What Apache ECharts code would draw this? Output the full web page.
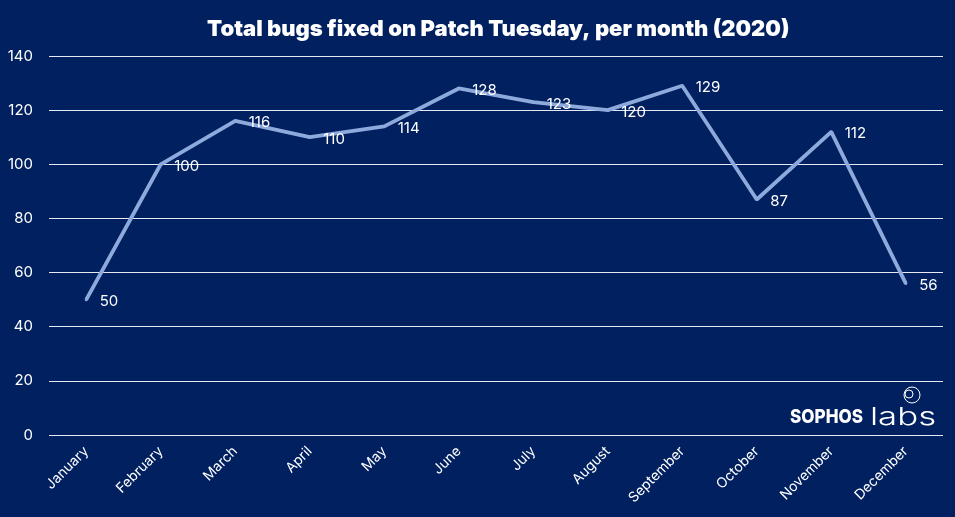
<!DOCTYPE html>
<html>
<head>
<meta charset="utf-8">
<script src="https://cdn.jsdelivr.net/npm/echarts@6/dist/echarts.min.js"></script>
<style>
  html, body { margin: 0; padding: 0; background: #012060; }
  #chart { width: 955px; height: 517px; }
</style>
</head>
<body>
<div id="chart"></div>
<script>
var months = ["January", "February", "March", "April", "May", "June", "July",
  "August", "September", "October", "November", "December"];
var bugsFixed = [50, 100, 116, 110, 114, 128, 123, 120, 129, 87, 112, 56];
var yTicks = { min: 0, max: 140, step: 20 };

var chartDom = document.getElementById("chart");
var myChart = echarts.init(chartDom);
var option;

option = {
  backgroundColor: "#012060",
  textStyle: { fontFamily: "Inter, sans-serif" },
  title: {
    text: "Total bugs fixed on Patch Tuesday, per month (2020)",
    left: 202,
    top: 13,
    textStyle: {
      color: "#fff",
      fontSize: 22,
      fontWeight: 900,
      fontFamily: "Inter, sans-serif",
    },
  },
  grid: {
    left: 49,
    right: 12,
    top: 56,
    bottom: 82,
    containLabel: false,
  },
  xAxis: {
    type: "category",
    data: months,
    boundaryGap: true,
    axisLine: { show: false },
    axisTick: { show: false },
    axisLabel: {
      color: "#fff",
      fontSize: 14,
      rotate: 45,
      margin: 14,
      interval: 0,
    },
  },
  yAxis: {
    type: "value",
    min: yTicks.min,
    max: yTicks.max,
    interval: yTicks.step,
    axisLine: { show: false },
    axisTick: { show: false },
    axisLabel: {
      color: "#fff",
      fontSize: 15,
      margin: 16,
    },
    splitLine: { lineStyle: { color: "#e6e9f2", width: 1 } },
  },
  series: [
    {
      name: "Bugs fixed",
      type: "line",
      data: bugsFixed,
      symbol: "circle",
      symbolSize: 3,
      showSymbol: true,
      itemStyle: { color: "#8eaadc" },
      lineStyle: { color: "#8eaadc", width: 3.8 },
      label: {
        show: true,
        position: "right",
        distance: 12,
        offset: [0, 2],
        color: "#fff",
        fontSize: 15,
      },
    },
  ],
  graphic: [
    {
      type: "text",
      x: 790,
      y: 427,
      scaleX: 0.9,
      style: {
        text: "SOPHOS",
        fill: "#fff",
        fontSize: 19,
        fontWeight: 800,
        fontFamily: "Inter, sans-serif",
        align: "left",
        verticalAlign: "bottom",
      },
    },
    {
      type: "text",
      x: 870,
      y: 430,
      scaleX: 1.45,
      style: {
        text: "labs",
        fill: "#fff",
        fontSize: 24,
        fontWeight: 300,
        fontFamily: "Inter, sans-serif",
        align: "left",
        verticalAlign: "bottom",
      },
    },
    {
      type: "circle",
      x: 912,
      y: 395,
      shape: { cx: 0, cy: 0, r: 8 },
      style: { fill: "none", stroke: "#fff", lineWidth: 1 },
    },
    {
      type: "circle",
      x: 909,
      y: 394,
      shape: { cx: 0, cy: 0, r: 4 },
      style: { fill: "none", stroke: "#fff", lineWidth: 1 },
    },
  ],
};

option && myChart.setOption(option);
</script>
</body>
</html>
